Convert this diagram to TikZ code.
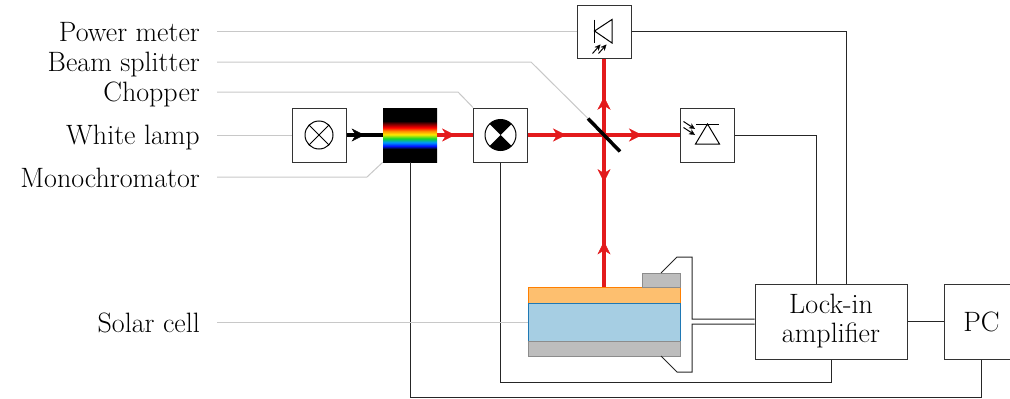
\documentclass[tikz,border=0pt]{standalone}
\usetikzlibrary{arrows.meta,decorations.markings,calc}

\definecolor{beamred}{HTML}{E31A1C}
\definecolor{cellblue}{HTML}{A6CEE3}
\definecolor{cellblueedge}{HTML}{1F78B4}
\definecolor{cellorange}{HTML}{FDBF6F}
\definecolor{cellorangeedge}{HTML}{FF7F00}
\definecolor{contactgray}{HTML}{BDBDBD}
\definecolor{contactedge}{HTML}{8C8C8C}
\definecolor{leadgray}{HTML}{C8C8C8}
\definecolor{specblue}{RGB}{0,20,255}
\definecolor{specazure}{RGB}{0,150,255}
\definecolor{specgreen}{RGB}{20,215,40}
\definecolor{specyellow}{RGB}{255,235,0}
\definecolor{specorange}{RGB}{255,140,0}
\definecolor{specred}{RGB}{255,0,0}
\definecolor{specdark}{RGB}{120,0,0}

% spectrum leaving the monochromator (bottom to top)
\pgfdeclareverticalshading{monospectrum}{100bp}{
  color(0bp)=(black); color(37bp)=(black); color(39.8bp)=(specblue);
  color(43.1bp)=(specazure); color(46.8bp)=(specgreen); color(50.5bp)=(specyellow);
  color(53.7bp)=(specorange); color(56.9bp)=(specred); color(60.2bp)=(specdark);
  color(63bp)=(black); color(100bp)=(black)}

\tikzset{
  box/.style={draw=black!80, line width=1pt, fill=white, inner sep=0pt,
    minimum width=54pt, minimum height=54pt},
  txt/.style={font=\fontsize{28}{29}\selectfont},
  lbl/.style={txt, inner sep=0pt, anchor=base east},
  lead/.style={draw=leadgray, line width=1pt},
  wire/.style={draw=black!85, line width=1pt},
  beam/.style={draw=beamred, line width=3.5pt},
  sym/.style={draw=black, line width=1pt},
  beamtip/.tip={Stealth[length=13pt,width=13pt,inset=4pt,line width=0.4pt]},
  smalltip/.tip={Stealth[length=6pt,width=5.5pt,line width=0.3pt]},
  midarrow/.style={postaction={decorate},
    decoration={markings, mark=at position #1 with {\arrow{beamtip}}}},
}

\begin{document}
\begin{tikzpicture}[x=1pt, y=-1pt]
\useasboundingbox (0,0) rectangle (1010,399);
\clip (0,0) rectangle (1010,399);

% ---------- component boxes ----------
\node[box] (lamp) at (319,135) {};
\node[inner sep=0pt, minimum width=54pt, minimum height=54pt,
      shade, shading=monospectrum] (mono) at (410,135) {};
\node[box] (chop) at (500.5,135) {};
\node[box] (pd) at (707.5,135) {};
\node[box, minimum height=53pt] (pm) at (604,31.5) {};
\node[box, txt, minimum width=152pt, minimum height=75pt, align=center]
  (lock) at (831,321.5) {Lock-in\\amplifier};
\node[box, txt, minimum width=75pt, minimum height=75pt] (pc) at (981.5,321.5) {PC};

% beam splitter and solar cell reference points
\coordinate (bs) at (604,135);
\coordinate (bsA) at (588,118.5);
\coordinate (bsB) at (620,151.5);
\coordinate (cellL) at (528,322);
\coordinate (cellTop) at (604,287);
\coordinate (topTab) at (661,273);
\coordinate (botTab) at (661,356);
\coordinate (wTop) at (692,319);
\coordinate (wBot) at (692,324);

% ---------- solar cell ----------
\filldraw[fill=cellorange, draw=cellorangeedge, line width=0.8pt] (528,287) rectangle (680,303);
\filldraw[fill=cellblue, draw=cellblueedge, line width=0.8pt] (528,303) rectangle (680,341);
\filldraw[fill=contactgray, draw=contactedge, line width=0.8pt] (528,341) rectangle (680,356);
\filldraw[fill=contactgray, draw=contactedge, line width=0.8pt] (642,273) rectangle (680,287);

% ---------- lamp symbol ----------
\draw[sym] (lamp) circle[radius=14pt];
\draw[sym] ($(lamp)+(45:14pt)$) -- ($(lamp)+(225:14pt)$);
\draw[sym] ($(lamp)+(135:14pt)$) -- ($(lamp)+(315:14pt)$);

% ---------- chopper symbol ----------
\fill (chop.center) -- ++(45:15.5pt) arc[start angle=45, end angle=135, radius=15.5pt] -- cycle;
\fill (chop.center) -- ++(225:15.5pt) arc[start angle=225, end angle=315, radius=15.5pt] -- cycle;
\draw[sym] (chop) circle[radius=15.5pt];

% ---------- photodiode (signal) ----------
\draw[sym] ($(pd)+(-11.5,-11)$) -- ($(pd)+(11.5,-11)$);
\draw[sym, line join=miter] ($(pd)+(0,-11)$) -- ($(pd)+(-12,9)$) -- ($(pd)+(12,9)$) -- cycle;
\draw[sym, -smalltip] ($(pd)+(-24,-13.5)$) -- ($(pd)+(-12.5,-6)$);
\draw[sym, -smalltip] ($(pd)+(-24,-7.5)$) -- ($(pd)+(-12.5,0)$);

% ---------- photodiode (power meter) ----------
\draw[sym] ($(pm)+(-9.5,-12)$) -- ($(pm)+(-9.5,11)$);
\draw[sym, line join=miter] ($(pm)+(-9.5,-0.5)$) -- ($(pm)+(8,-12)$) -- ($(pm)+(8,11.5)$) -- cycle;
\draw[sym, -smalltip] ($(pm)+(-11.5,22)$) -- ($(pm)+(-3.5,13)$);
\draw[sym, -smalltip] ($(pm)+(-5.5,22)$) -- ($(pm)+(2.5,13)$);

% ---------- electrical wiring ----------
\draw[wire] (mono.south) -- ++(0,235) -| (pc.south);
\draw[wire] (chop.south) -- ++(0,220) -| (lock.south);
\draw[wire] (pd.east) -| ($(lock.north)+(-15,0)$);
\draw[wire] (pm.east) -| ($(lock.north)+(15,0)$);
\draw[wire] (lock.east) -- (pc.west);
\draw[wire] (topTab) -- ++(16,-16) -- ++(15,0) -- (wTop) -- (wTop -| lock.west);
\draw[wire] (botTab) -- ++(16,16) -- ++(15,0) -- (wBot) -- (wBot -| lock.west);

% ---------- labels and leader lines ----------
\node[lbl] (lPM) at (200,41.5) {Power meter};
\node[lbl] (lBS) at (200,71.5) {Beam splitter};
\node[lbl] (lCH) at (200,101) {Chopper};
\node[lbl] (lWL) at (200,144) {White lamp};
\node[lbl] (lMO) at (200,187) {Monochromator};
\node[lbl] (lSC) at (200,332) {Solar cell};
\coordinate (aPM) at (217,31.5);
\coordinate (aBS) at (217,62);
\coordinate (aCH) at (217,92);
\coordinate (aWL) at (217,135);
\coordinate (aMO) at (217,177);
\coordinate (aSC) at (217,322);
\draw[lead] (aPM) -- (pm.west);
\draw[lead] (aBS) -- ++(314,0) -- (bsA);
\draw[lead] (aCH) -- ++(241,0) -- (chop.north west);
\draw[lead] (aWL) -- (lamp.west);
\draw[lead] (aMO) -- ++(150,0) -- (mono.south west);
\draw[lead] (aSC) -- (cellL);

% ---------- light path ----------
\draw[line width=3.3pt, postaction={decorate},
  decoration={markings, mark=at position 0.5 with
    {\arrow{Stealth[length=13pt,width=13pt,inset=4pt,line width=0.4pt]}}}]
  (lamp.east) -- (mono.west);
\draw[beam, midarrow=0.5] (mono.east) -- (chop.west);
\draw[beam, midarrow=0.5] (chop.east) -- (bs);
\draw[beam, midarrow=0.5] (bs) -- (pd.west);
\draw[beam, midarrow=0.5] (bs) -- (pm.south);
\draw[beam, postaction={decorate},
  decoration={markings,
    mark=at position 0.31 with {\arrow{beamtip}},
    mark=at position 0.70 with {\arrowreversed{beamtip}}}]
  (bs) -- (cellTop);
\draw[line width=3.5pt] (bsA) -- (bsB);
\end{tikzpicture}
\end{document}
